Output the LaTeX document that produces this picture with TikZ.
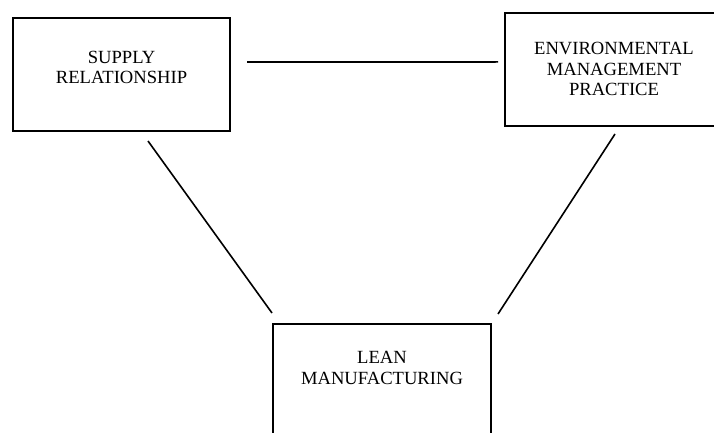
\documentclass[tikz,border=0pt]{standalone}
\usepackage{fontspec}
\setmainfont{Liberation Serif}
\usepackage{tikz}
\usetikzlibrary{positioning}

\begin{document}
\begin{tikzpicture}[
    x=1pt, y=1pt,
    box/.style={draw, line width=2pt, minimum width=218pt, minimum height=113.3pt,
                align=center, inner sep=0pt, font=\fontsize{18.6}{20.5}\selectfont},
    link/.style={line width=1.6pt},
  ]
  \useasboundingbox (0,0) rectangle (714,-433);
  \clip (0,0) rectangle (714,-433);

  \node[box, anchor=north west, minimum width=217.6pt, text depth=14pt] (sr)  at (11.7,-16.7) {SUPPLY\\RELATIONSHIP};
  \node[box, anchor=north west]                        (emp) at (504,-11.7)  {ENVIRONMENTAL\\MANAGEMENT\\PRACTICE};
  \node[box, anchor=north west, text depth=26pt]       (lm)  at (272,-323)   {LEAN\\MANUFACTURING};

  \draw[link] ([shift={(15.7,12.3)}]sr.east)  -- ([shift={(-6,7.4)}]emp.west);
  \draw[link] ([shift={(26.5,-9)}]sr.south)   -- ([shift={(0,10)}]lm.north west);
  \draw[link] ([shift={(1,-7)}]emp.south)     -- ([shift={(6,9)}]lm.north east);
\end{tikzpicture}
\end{document}
